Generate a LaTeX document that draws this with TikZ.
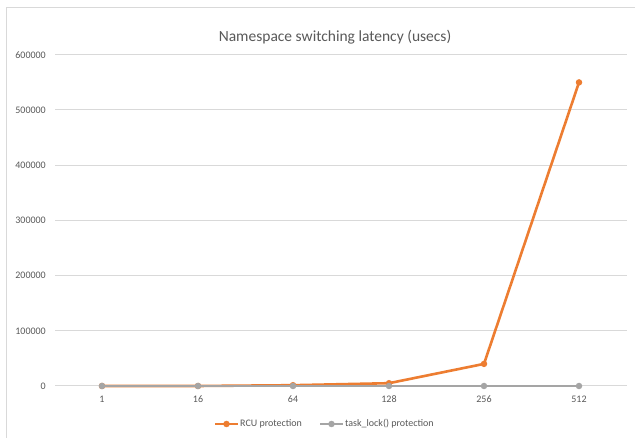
\documentclass[tikz,border=0pt]{standalone}
\usepackage{fontspec}
\setmainfont{Carlito}
\begin{document}
\begin{tikzpicture}[x=1pt,y=-1pt,
  grid/.style={draw=gridc,line width=1pt},
  lbl/.style={text=txt,font=\fontsize{10}{12}\selectfont,inner sep=0pt},
  rcu/.style={draw=rcuc,line width=2.6pt,line join=round},
  tl/.style={draw=tlc,line width=2.6pt,line join=round},
  rcudot/.style={circle,fill=rcuc,inner sep=0pt,minimum size=6.5pt},
  tldot/.style={circle,fill=tlc,inner sep=0pt,minimum size=6.5pt}]
\definecolor{rcuc}{HTML}{ED7D31}
\definecolor{tlc}{HTML}{A5A5A5}
\definecolor{gridc}{HTML}{D9D9D9}
\definecolor{txt}{HTML}{595959}
\useasboundingbox (0,0) rectangle (635,438);
\fill[white] (0,0) rectangle (635,438);
% frame (top and left visible)
\draw[gridc,line width=1pt] (6,445) -- (6,8) -- (640,8);
% title
\node[text=txt,font=\fontsize{15.5}{18}\selectfont,inner sep=0pt] (title) at (335,37) {Namespace switching latency (usecs)};
% gridlines and y labels
\foreach \v/\yy in {0/386,100000/330.8,200000/275.6,300000/220.4,400000/165.2,500000/110,600000/54.8}{
  \draw[grid] (55,\yy) -- (627,\yy);
  \node[lbl,anchor=east] (y\v) at (46,\yy) {\v};
}
% categories
\foreach \c/\xx in {1/102,16/198,64/293,128/389,256/484,512/579}{
  \node[lbl] (x\c) at (\xx,399) {\c};
}
% data coordinates
\coordinate (r1) at (102,386);
\coordinate (r16) at (198,386);
\coordinate (r64) at (293,385.2);
\coordinate (r128) at (389,383.2);
\coordinate (r256) at (484,363.9);
\coordinate (r512) at (579,82.4);
\coordinate (t1) at (102,386);
\coordinate (t16) at (198,386);
\coordinate (t64) at (293,386);
\coordinate (t128) at (389,386);
\coordinate (t256) at (484,386);
\coordinate (t512) at (579,386);
% RCU series
\draw[rcu] (r1) -- (r16) -- (r64) -- (r128) -- (r256) -- (r512);
\foreach \p in {r1,r16,r64,r128,r256,r512}{\node[rcudot] at (\p) {};}
% task_lock series
\draw[tl] (t1) -- (t16) -- (t64) -- (t128) -- (t256) -- (t512);
\foreach \p in {t1,t16,t64,t128,t256,t512}{\node[tldot] at (\p) {};}
% legend
\coordinate (la1) at (215,424);
\coordinate (la2) at (238,424);
\draw[rcu] (la1) -- (la2);
\node[rcudot] (lam) at (226.5,424) {};
\node[lbl,anchor=west] (lat) at (240,424) {RCU protection};
\coordinate (lb1) at (320,424);
\coordinate (lb2) at (343,424);
\draw[tl] (lb1) -- (lb2);
\node[tldot] (lbm) at (331.5,424) {};
\node[lbl,anchor=west] (lbt) at (345,424) {task\_lock() protection};
\end{tikzpicture}
\end{document}
